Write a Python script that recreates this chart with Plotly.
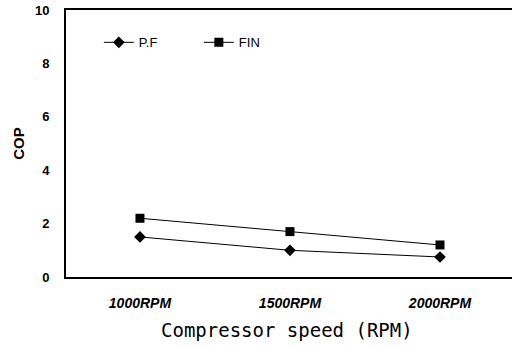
import plotly.graph_objects as go

categories = ["1000RPM", "1500RPM", "2000RPM"]
pf_values = [1.5, 1.0, 0.75]
fin_values = [2.2, 1.7, 1.2]
y_ticks = [0, 2, 4, 6, 8, 10]

fig = go.Figure()
fig.add_trace(go.Scatter(x=categories, y=pf_values, name="P.F", mode="lines+markers",
                         line=dict(color="black", width=1),
                         marker=dict(symbol="diamond", size=9, color="black")))
fig.add_trace(go.Scatter(x=categories, y=fin_values, name="FIN", mode="lines+markers",
                         line=dict(color="black", width=1),
                         marker=dict(symbol="square", size=9, color="black")))

fig.add_annotation(text="Compressor speed (RPM)", xref="paper", yref="paper",
                   x=0.477, y=-0.1985, xanchor="center", yanchor="middle", showarrow=False,
                   font=dict(family="DejaVu Sans Mono, Liberation Mono", size=19, color="black"))

fig.update_layout(
    template="none",
    width=530, height=346,
    margin=dict(l=66, r=0, t=10, b=69, autoexpand=False),
    paper_bgcolor="white", plot_bgcolor="white",
    showlegend=True,
    legend=dict(orientation="h", x=0.0708, y=0.935, xanchor="left", yanchor="top",
                font=dict(family="Liberation Sans, Arial", size=13, color="black"),
                bgcolor="rgba(0,0,0,0)", entrywidth=55, entrywidthmode="pixels",
                traceorder="normal"),
    xaxis=dict(type="category", range=[-0.493, 2.6], showgrid=False, automargin=False,
               showline=True, linecolor="black", linewidth=2, mirror=True,
               ticks="", zeroline=False, ticklabelstandoff=12,
               tickfont=dict(family="Liberation Sans Narrow, Arial", size=14, color="black", weight="bold", style="italic")),
    yaxis=dict(range=[0, 10], tickvals=y_ticks, showgrid=False, automargin=False,
               showline=True, linecolor="black", linewidth=2, mirror=False,
               ticks="", zeroline=False, ticklabelstandoff=12, ticklabeloverflow="allow",
               tickfont=dict(family="Liberation Sans, Arial", size=13, color="black", weight="bold"),
               title=dict(text="COP", standoff=7,
                          font=dict(family="Liberation Sans, Arial", size=15, color="black", weight="bold"))),
)

fig.write_html("out.html", config={"displayModeBar": False},
               post_script="document.body.style.margin='0';document.body.style.overflow='hidden';")
